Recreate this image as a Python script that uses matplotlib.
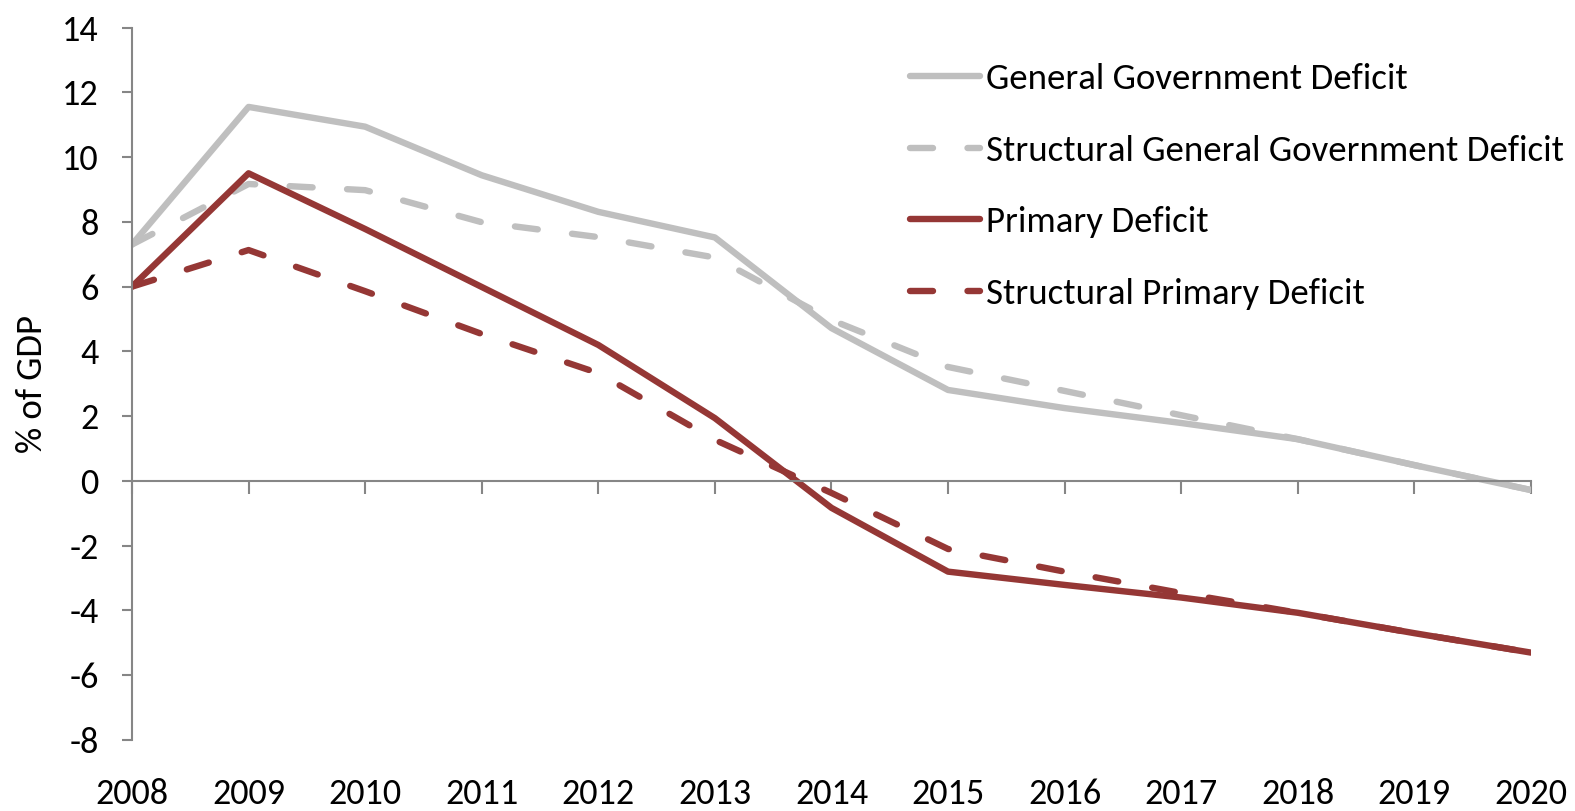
import numpy as np
import matplotlib.pyplot as plt
from matplotlib import font_manager

# Calibri look-alike if present, otherwise Liberation Sans with sizes matched on width
names = {f.name for f in font_manager.fontManager.ttflist}
if 'Carlito' in names:
    font = 'Carlito'
    tick_size, legend_size, label_size = 26, 26.6, 26.5
else:
    font = 'Liberation Sans'
    tick_size, legend_size, label_size = 23.6, 24.6, 22
plt.rcParams['font.family'] = [font, 'DejaVu Sans']
plt.rcParams['axes.unicode_minus'] = False

years = np.arange(2008, 2021)

# values, % of GDP
general_deficit = [7.3, 11.55, 10.94, 9.44, 8.31, 7.52, 4.72, 2.81, 2.25, 1.79, 1.29, 0.49, -0.28]
structural_general = [7.3, 9.17, 8.98, 7.99, 7.53, 6.9, 4.97, 3.52, 2.78, 2.03, 1.29, 0.49, -0.28]
primary_deficit = [6.0, 9.5, 7.78, 5.99, 4.2, 1.94, -0.83, -2.8, -3.21, -3.6, -4.07, -4.7, -5.3]
structural_primary = [6.0, 7.13, 5.86, 4.54, 3.33, 1.27, -0.37, -2.1, -2.8, -3.46, -4.07, -4.7, -5.3]

labels = ['General Government Deficit', 'Structural General Government Deficit',
          'Primary Deficit', 'Structural Primary Deficit']

gray = '#BFBFBF'
red = '#953735'
axis_col = '#868686'

fig = plt.figure(figsize=(15.75, 8.11), dpi=100)
ax = fig.add_axes([0.0838, 0.0875, 0.8882, 0.8785])

lw = 4.6
dash = (3.6, 5.4)
ax.plot(years, general_deficit, color=gray, lw=lw, solid_capstyle='round', label=labels[0])
ax.plot(years, structural_general, color=gray, lw=lw, dashes=dash, dash_capstyle='round', label=labels[1])
ax.plot(years, primary_deficit, color=red, lw=lw, solid_capstyle='round', label=labels[2])
ax.plot(years, structural_primary, color=red, lw=lw, dashes=dash, dash_capstyle='round', label=labels[3])

ax.set_xlim(2008, 2020)
ax.set_ylim(-8, 14)
ax.set_yticks(np.arange(-8, 15, 2))
ax.set_xticks(years)

for s in ['top', 'right']:
    ax.spines[s].set_visible(False)
ax.spines['left'].set_color(axis_col)
ax.spines['left'].set_linewidth(1.5)
ax.spines['bottom'].set_position(('data', 0))
ax.spines['bottom'].set_color(axis_col)
ax.spines['bottom'].set_linewidth(1.5)

ax.tick_params(axis='y', direction='out', length=7, width=1.5, color=axis_col,
               labelsize=tick_size, pad=17)
ax.tick_params(axis='x', direction='out', length=9, width=1.5, color=axis_col,
               labelbottom=False)

# year labels sit below the plot area
sec = ax.secondary_xaxis('bottom')
sec.set_xticks(years)
sec.tick_params(length=0, labelsize=tick_size, pad=27)
sec.spines['bottom'].set_visible(False)

ax.set_ylabel('% of GDP', fontsize=label_size, labelpad=10)

fig.legend(loc='upper left', bbox_to_anchor=(0.5778, 0.922), frameon=False,
           fontsize=legend_size, handlelength=1.9, handletextpad=0.15, labelspacing=1.07,
           borderpad=0, borderaxespad=0)

fig.savefig('out.png', dpi=100)
